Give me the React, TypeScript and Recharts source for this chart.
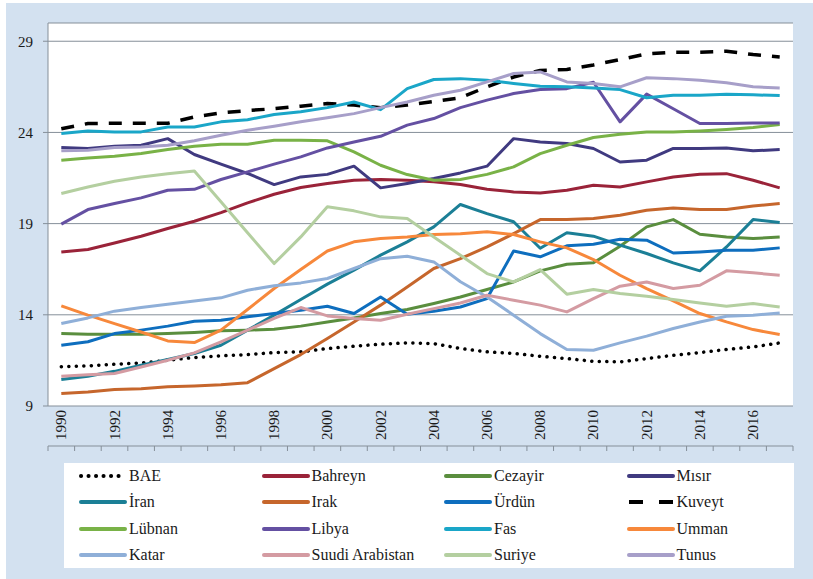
import { CartesianGrid, Line, LineChart, XAxis, YAxis } from "recharts";

const years = [
  1990, 1991, 1992, 1993, 1994, 1995, 1996, 1997, 1998, 1999, 2000, 2001, 2002, 2003,
  2004, 2005, 2006, 2007, 2008, 2009, 2010, 2011, 2012, 2013, 2014, 2015, 2016, 2017,
];
const yearLabels = [1990, 1992, 1994, 1996, 1998, 2000, 2002, 2004, 2006, 2008, 2010, 2012, 2014, 2016];
const yTicks = [9, 14, 19, 24, 29];

const bae = [11.15, 11.2, 11.29, 11.36, 11.51, 11.66, 11.75, 11.82, 11.93, 11.97, 12.15, 12.28, 12.39, 12.46, 12.42, 12.15, 11.97, 11.88, 11.73, 11.6, 11.45, 11.42, 11.6, 11.78, 11.93, 12.1, 12.24, 12.46];
const bahreyn = [17.45, 17.58, 17.94, 18.31, 18.73, 19.13, 19.6, 20.14, 20.61, 20.98, 21.2, 21.38, 21.42, 21.38, 21.29, 21.14, 20.89, 20.74, 20.68, 20.83, 21.1, 21.01, 21.29, 21.56, 21.71, 21.74, 21.38, 20.96];
const cezayir = [12.97, 12.94, 12.94, 12.94, 12.97, 13.03, 13.12, 13.16, 13.21, 13.38, 13.61, 13.83, 14.07, 14.29, 14.62, 14.98, 15.39, 15.8, 16.41, 16.77, 16.85, 17.76, 18.82, 19.22, 18.42, 18.27, 18.18, 18.27];
const misir = [23.17, 23.12, 23.24, 23.3, 23.66, 22.79, 22.26, 21.75, 21.14, 21.56, 21.7, 22.15, 20.96, 21.2, 21.47, 21.78, 22.15, 23.66, 23.48, 23.39, 23.12, 22.38, 22.48, 23.12, 23.12, 23.15, 22.99, 23.06];
const iran = [10.45, 10.63, 10.9, 11.24, 11.55, 11.88, 12.33, 13.16, 13.98, 14.84, 15.68, 16.45, 17.27, 18.0, 18.82, 20.05, 19.55, 19.1, 17.65, 18.5, 18.31, 17.82, 17.36, 16.85, 16.41, 17.72, 19.22, 19.06];
const irak = [9.68, 9.77, 9.9, 9.95, 10.05, 10.1, 10.17, 10.28, 11.05, 11.82, 12.7, 13.61, 14.53, 15.53, 16.54, 17.08, 17.72, 18.45, 19.22, 19.22, 19.28, 19.46, 19.73, 19.86, 19.77, 19.77, 19.97, 20.1];
const urdun = [12.33, 12.52, 12.97, 13.16, 13.38, 13.65, 13.7, 13.89, 14.07, 14.25, 14.47, 14.07, 14.98, 14.03, 14.2, 14.43, 14.89, 17.5, 17.18, 17.78, 17.87, 18.14, 18.09, 17.39, 17.45, 17.54, 17.54, 17.67];
const kuveyt = [24.2, 24.49, 24.5, 24.5, 24.5, 24.85, 25.07, 25.2, 25.3, 25.44, 25.58, 25.5, 25.36, 25.5, 25.7, 25.9, 26.5, 27.04, 27.4, 27.45, 27.7, 28.0, 28.3, 28.4, 28.4, 28.45, 28.27, 28.14];
const lubnan = [22.48, 22.6, 22.7, 22.84, 23.06, 23.24, 23.35, 23.35, 23.57, 23.57, 23.54, 22.93, 22.2, 21.69, 21.38, 21.42, 21.7, 22.11, 22.84, 23.3, 23.72, 23.9, 24.03, 24.03, 24.08, 24.16, 24.27, 24.43];
const libya = [18.97, 19.77, 20.1, 20.41, 20.83, 20.88, 21.42, 21.84, 22.26, 22.66, 23.15, 23.48, 23.79, 24.4, 24.76, 25.36, 25.77, 26.13, 26.35, 26.4, 26.75, 24.58, 26.1, 25.3, 24.49, 24.49, 24.52, 24.52];
const fas = [23.94, 24.08, 24.03, 24.03, 24.3, 24.3, 24.58, 24.7, 24.98, 25.13, 25.36, 25.67, 25.25, 26.4, 26.9, 26.95, 26.86, 26.68, 26.53, 26.5, 26.44, 26.35, 25.9, 26.04, 26.04, 26.1, 26.06, 26.02];
const umman = [14.49, 13.98, 13.52, 13.06, 12.57, 12.48, 13.16, 14.29, 15.44, 16.48, 17.5, 18.0, 18.18, 18.27, 18.4, 18.45, 18.55, 18.4, 18.0, 17.67, 17.03, 16.17, 15.44, 14.76, 14.07, 13.61, 13.19, 12.92];
const katar = [13.52, 13.83, 14.2, 14.4, 14.58, 14.76, 14.93, 15.35, 15.59, 15.75, 15.99, 16.54, 17.08, 17.21, 16.9, 15.81, 14.98, 13.98, 12.97, 12.1, 12.06, 12.46, 12.83, 13.25, 13.61, 13.92, 13.98, 14.1];
const suudi = [10.63, 10.72, 10.78, 11.14, 11.51, 11.91, 12.52, 13.16, 13.8, 14.4, 13.94, 13.8, 13.7, 14.03, 14.34, 14.65, 15.07, 14.8, 14.53, 14.16, 14.89, 15.57, 15.8, 15.44, 15.62, 16.41, 16.3, 16.17];
const suriye = [20.65, 21.01, 21.32, 21.56, 21.74, 21.89, 20.2, 18.5, 16.81, 18.27, 19.92, 19.7, 19.37, 19.28, 18.27, 17.27, 16.26, 15.8, 16.48, 15.13, 15.39, 15.17, 15.02, 14.84, 14.65, 14.47, 14.62, 14.43];
const tunus = [22.99, 23.02, 23.17, 23.2, 23.3, 23.54, 23.85, 24.12, 24.34, 24.58, 24.8, 25.03, 25.36, 25.67, 26.04, 26.31, 26.77, 27.23, 27.32, 26.77, 26.68, 26.5, 27.0, 26.95, 26.86, 26.72, 26.5, 26.44];

const SERIES = [
  { key: "BAE", values: bae, color: "#000000", dash: "0.1 7.4", cap: "round", width: 3.5 },
  { key: "Bahreyn", values: bahreyn, color: "#9A2339" },
  { key: "Cezayir", values: cezayir, color: "#5A8E3E" },
  { key: "Mısır", values: misir, color: "#403A80" },
  { key: "İran", values: iran, color: "#1B7F96" },
  { key: "Irak", values: irak, color: "#C6662C" },
  { key: "Ürdün", values: urdun, color: "#0E6EBE" },
  { key: "Kuveyt", values: kuveyt, color: "#000000", dash: "13 11", width: 3.5 },
  { key: "Lübnan", values: lubnan, color: "#79B247" },
  { key: "Libya", values: libya, color: "#6450A2" },
  { key: "Fas", values: fas, color: "#1AA6C8" },
  { key: "Umman", values: umman, color: "#F7883B" },
  { key: "Katar", values: katar, color: "#8FAFD8" },
  { key: "Suudi Arabistan", values: suudi, color: "#D49BA2" },
  { key: "Suriye", values: suriye, color: "#B4CFA0" },
  { key: "Tunus", values: tunus, color: "#A79FC9" },
];

const rows = years.map((year, i) => {
  const row: Record<string, number> = { year };
  SERIES.forEach((s) => { row[s.key] = s.values[i]; });
  return row;
});

const boundaries = [...years.map((y) => y - 0.5), years[years.length - 1] + 0.5];

const FONT = "Liberation Serif, Tinos, Times New Roman, DejaVu Serif, serif";
const AXIS = "#858F99";

function YearTick({ x, y, payload }: any) {
  return (
    <g transform={`translate(${x},${y})`}>
      <text transform="rotate(-90)" x={-4} y={5} textAnchor="end" fontSize={15} fontFamily={FONT} fill="#1a1a1a">
        {payload.value}
      </text>
    </g>
  );
}

function Swatch({ color, dash, cap }: { color: string; dash?: string; cap?: string }) {
  return (
    <svg width={50} height={8} style={{ display: "block" }}>
      <line
        x1={3} y1={4} x2={47} y2={4}
        stroke={color} strokeWidth={4}
        strokeDasharray={dash === "13 11" ? "14 16" : dash}
        strokeLinecap={(cap as any) || (dash ? "butt" : "round")}
      />
    </svg>
  );
}

export default function App() {
  return (
    <div style={{ position: "absolute", left: 0, top: 0, width: 813, height: 579, background: "#fff", overflow: "hidden" }}>
      <div style={{ position: "absolute", left: 6, top: 3, right: 0, bottom: 0, background: "#D3E1F0" }} />
      <div style={{ position: "absolute", left: 0, top: 0 }}>
        <LineChart width={813} height={579} data={rows} margin={{ top: 23, right: 20, bottom: 128, left: 0 }}>
          <CartesianGrid vertical={false} fill="#ffffff" stroke={AXIS} strokeWidth={1} />
          <XAxis
            xAxisId="marks" dataKey="year" type="number" domain={[1989.5, 2017.5]} allowDataOverflow
            ticks={boundaries} interval={0} tickSize={5} height={5}
            tickFormatter={() => ""} stroke={AXIS}
          />
          <XAxis
            xAxisId="labels" dataKey="year" type="number" domain={[1989.5, 2017.5]} allowDataOverflow
            ticks={yearLabels} interval={0} tickSize={0} tickMargin={0} height={40}
            axisLine={false} tickLine={false} tick={<YearTick />}
          />
          <YAxis
            type="number" domain={[9, 30]} allowDataOverflow ticks={yTicks} interval={0}
            width={48} tickSize={5} tickMargin={10} stroke={AXIS}
            tick={{ fontSize: 15, fill: "#1a1a1a", fontFamily: FONT }}
          />
          {SERIES.map((s) => (
            <Line
              key={s.key}
              xAxisId="labels"
              type="linear"
              dataKey={s.key}
              stroke={s.color}
              strokeWidth={s.width || 3}
              strokeDasharray={s.dash}
              strokeLinecap={(s.cap as any) || "butt"}
              strokeLinejoin="round"
              dot={false}
              activeDot={false}
              isAnimationActive={false}
            />
          ))}
        </LineChart>
      </div>
      <div
        style={{
          position: "absolute", left: 64, top: 463, width: 730, height: 105,
          background: "#fff", fontFamily: FONT, fontSize: 16, color: "#1a1a1a",
        }}
      >
        {SERIES.map((s, i) => (
          <div
            key={s.key}
            style={{
              position: "absolute",
              left: 14 + (i % 4) * 182.5,
              top: 13 + Math.floor(i / 4) * 26.3 - 10,
              height: 20,
              display: "flex",
              alignItems: "center",
            }}
          >
            <Swatch color={s.color} dash={s.dash} cap={s.cap} />
            <span style={{ marginLeft: 1, whiteSpace: "nowrap" }}>{s.key}</span>
          </div>
        ))}
      </div>
    </div>
  );
}
